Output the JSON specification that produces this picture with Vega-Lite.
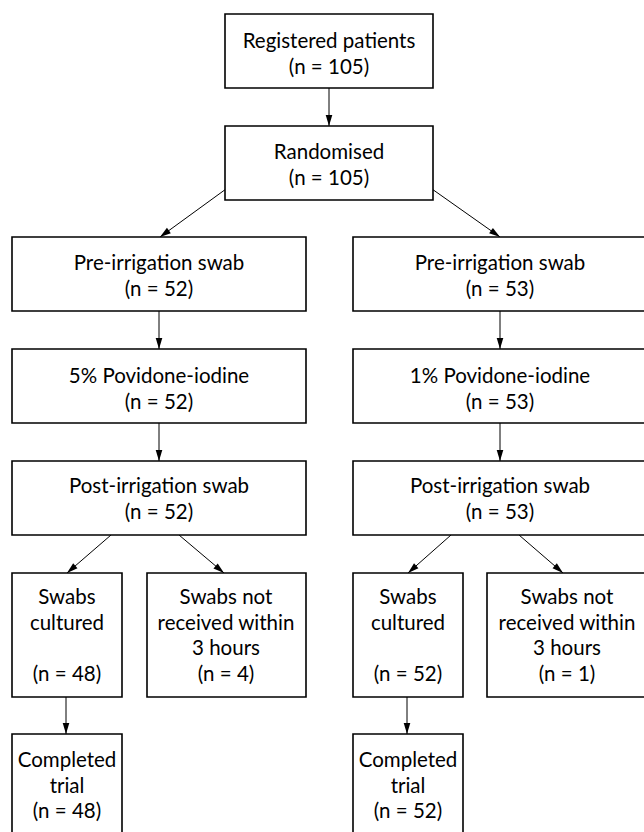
{
  "$schema": "https://vega.github.io/schema/vega-lite/v6.json",
  "width": 644,
  "height": 832,
  "autosize": {"type": "none"},
  "padding": 0,
  "background": "white",
  "config": {"view": {"stroke": null}},
  "datasets": {
    "boxes": [
      {"id": "registered", "x": 225, "x2": 433, "y": 14, "y2": 88},
      {"id": "randomised", "x": 225, "x2": 433, "y": 126, "y2": 200},
      {"id": "pre_l", "x": 12, "x2": 306, "y": 237, "y2": 311},
      {"id": "pre_r", "x": 353, "x2": 647, "y": 237, "y2": 311},
      {"id": "pi5", "x": 12, "x2": 306, "y": 349, "y2": 423},
      {"id": "pi1", "x": 353, "x2": 647, "y": 349, "y2": 423},
      {"id": "post_l", "x": 12, "x2": 306, "y": 461, "y2": 535},
      {"id": "post_r", "x": 353, "x2": 647, "y": 461, "y2": 535},
      {"id": "cult_l", "x": 12, "x2": 122, "y": 573, "y2": 697},
      {"id": "notrec_l", "x": 147, "x2": 306, "y": 573, "y2": 697},
      {"id": "cult_r", "x": 353, "x2": 463, "y": 573, "y2": 697},
      {"id": "notrec_r", "x": 487, "x2": 647, "y": 573, "y2": 697},
      {"id": "comp_l", "x": 12, "x2": 122, "y": 734, "y2": 850},
      {"id": "comp_r", "x": 353, "x2": 463, "y": 734, "y2": 850}
    ],
    "labels": [
      {"x": 329, "y": 42, "lines": ["Registered patients", "(n = 105)"]},
      {"x": 329, "y": 153, "lines": ["Randomised", "(n = 105)"]},
      {"x": 159, "y": 264, "lines": ["Pre-irrigation swab", "(n = 52)"]},
      {"x": 500, "y": 264, "lines": ["Pre-irrigation swab", "(n = 53)"]},
      {"x": 159, "y": 377, "lines": ["5% Povidone-iodine", "(n = 52)"]},
      {"x": 500, "y": 377, "lines": ["1% Povidone-iodine", "(n = 53)"]},
      {"x": 159, "y": 487, "lines": ["Post-irrigation swab", "(n = 52)"]},
      {"x": 500, "y": 487, "lines": ["Post-irrigation swab", "(n = 53)"]},
      {"x": 67, "y": 598, "lines": ["Swabs", "cultured"]},
      {"x": 67, "y": 675, "lines": ["(n = 48)"]},
      {"x": 226, "y": 598, "lines": ["Swabs not", "received within", "3 hours", "(n = 4)"]},
      {"x": 408, "y": 598, "lines": ["Swabs", "cultured"]},
      {"x": 408, "y": 675, "lines": ["(n = 52)"]},
      {"x": 567, "y": 598, "lines": ["Swabs not", "received within", "3 hours", "(n = 1)"]},
      {"x": 67, "y": 761, "lines": ["Completed", "trial", "(n = 48)"]},
      {"x": 408, "y": 761, "lines": ["Completed", "trial", "(n = 52)"]}
    ],
    "arrows": [
      {"x": 329, "y": 88, "x2": 329, "y2": 126},
      {"x": 226, "y": 189, "x2": 160, "y2": 237},
      {"x": 432, "y": 189, "x2": 500, "y2": 237},
      {"x": 159, "y": 311, "x2": 159, "y2": 349},
      {"x": 500, "y": 311, "x2": 500, "y2": 349},
      {"x": 159, "y": 423, "x2": 159, "y2": 461},
      {"x": 500, "y": 423, "x2": 500, "y2": 461},
      {"x": 111, "y": 535, "x2": 67, "y2": 573},
      {"x": 179, "y": 535, "x2": 224, "y2": 573},
      {"x": 451, "y": 535, "x2": 408, "y2": 573},
      {"x": 519, "y": 535, "x2": 563, "y2": 573},
      {"x": 66, "y": 697, "x2": 66, "y2": 734},
      {"x": 407, "y": 697, "x2": 407, "y2": 734}
    ]
  },
  "layer": [
    {
      "data": {"name": "arrows"},
      "mark": {"type": "rule", "color": "black", "strokeWidth": 1},
      "encoding": {
        "x": {"field": "x", "type": "quantitative", "scale": {"domain": [0, 644]}, "axis": null},
        "y": {"field": "y", "type": "quantitative", "scale": {"domain": [0, 832], "reverse": true}, "axis": null},
        "x2": {"field": "x2"},
        "y2": {"field": "y2"}
      }
    },
    {
      "data": {"name": "arrows"},
      "transform": [
        {"calculate": "atan2(datum.x2 - datum.x, -(datum.y2 - datum.y)) * 180 / PI", "as": "ang"}
      ],
      "mark": {"type": "point", "shape": "M0,0 L-0.6,2 L0.6,2 Z", "filled": true, "color": "black", "opacity": 1, "size": 121, "strokeWidth": 0},
      "encoding": {
        "x": {"field": "x2", "type": "quantitative", "scale": {"domain": [0, 644]}, "axis": null},
        "y": {"field": "y2", "type": "quantitative", "scale": {"domain": [0, 832], "reverse": true}, "axis": null},
        "angle": {"field": "ang", "type": "quantitative", "scale": null}
      }
    },
    {
      "data": {"name": "boxes"},
      "mark": {"type": "rect", "fill": "white", "stroke": "black", "strokeWidth": 1.6, "clip": true},
      "encoding": {
        "x": {"field": "x", "type": "quantitative", "scale": {"domain": [0, 644]}, "axis": null},
        "x2": {"field": "x2"},
        "y": {"field": "y", "type": "quantitative", "scale": {"domain": [0, 832], "reverse": true}, "axis": null},
        "y2": {"field": "y2"}
      }
    },
    {
      "data": {"name": "labels"},
      "mark": {"type": "text", "font": "Lato", "fontSize": 20.5, "lineHeight": 25.7, "align": "center", "baseline": "middle", "color": "black"},
      "encoding": {
        "x": {"field": "x", "type": "quantitative", "scale": {"domain": [0, 644]}, "axis": null},
        "y": {"field": "y", "type": "quantitative", "scale": {"domain": [0, 832], "reverse": true}, "axis": null},
        "text": {"field": "lines"}
      }
    }
  ]
}
